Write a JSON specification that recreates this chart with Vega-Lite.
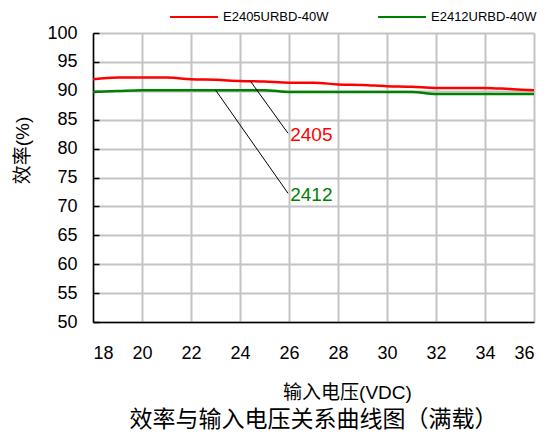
{
  "$schema": "https://vega.github.io/schema/vega-lite/v6.json",
  "autosize": {"type": "none"},
  "width": 441,
  "height": 289,
  "padding": {"left": 93, "top": 33, "right": 21, "bottom": 114},
  "background": "white",
  "config": {
    "font": "Liberation Sans, Noto Sans CJK SC",
    "view": {"stroke": null}
  },
  "title": {
    "text": "效率与输入电压关系曲线图（满载）",
    "orient": "bottom",
    "anchor": "middle",
    "frame": "group",
    "fontSize": 23,
    "fontWeight": "normal",
    "color": "black",
    "font": "Liberation Sans, Noto Sans CJK SC",
    "offset": 7
  },
  "datasets": {
    "curves": [
      {"v": 18, "eff": 92.0, "series": "E2405URBD-40W"},
      {"v": 19, "eff": 92.3, "series": "E2405URBD-40W"},
      {"v": 20, "eff": 92.3, "series": "E2405URBD-40W"},
      {"v": 21, "eff": 92.3, "series": "E2405URBD-40W"},
      {"v": 22, "eff": 92.0, "series": "E2405URBD-40W"},
      {"v": 23, "eff": 91.9, "series": "E2405URBD-40W"},
      {"v": 24, "eff": 91.7, "series": "E2405URBD-40W"},
      {"v": 25, "eff": 91.6, "series": "E2405URBD-40W"},
      {"v": 26, "eff": 91.4, "series": "E2405URBD-40W"},
      {"v": 27, "eff": 91.4, "series": "E2405URBD-40W"},
      {"v": 28, "eff": 91.1, "series": "E2405URBD-40W"},
      {"v": 29, "eff": 91.0, "series": "E2405URBD-40W"},
      {"v": 30, "eff": 90.8, "series": "E2405URBD-40W"},
      {"v": 31, "eff": 90.7, "series": "E2405URBD-40W"},
      {"v": 32, "eff": 90.5, "series": "E2405URBD-40W"},
      {"v": 33, "eff": 90.5, "series": "E2405URBD-40W"},
      {"v": 34, "eff": 90.5, "series": "E2405URBD-40W"},
      {"v": 35, "eff": 90.3, "series": "E2405URBD-40W"},
      {"v": 36, "eff": 90.1, "series": "E2405URBD-40W"},
      {"v": 18, "eff": 89.8, "series": "E2412URBD-40W"},
      {"v": 19, "eff": 89.95, "series": "E2412URBD-40W"},
      {"v": 20, "eff": 90.1, "series": "E2412URBD-40W"},
      {"v": 21, "eff": 90.1, "series": "E2412URBD-40W"},
      {"v": 22, "eff": 90.1, "series": "E2412URBD-40W"},
      {"v": 23, "eff": 90.1, "series": "E2412URBD-40W"},
      {"v": 24, "eff": 90.1, "series": "E2412URBD-40W"},
      {"v": 25, "eff": 90.1, "series": "E2412URBD-40W"},
      {"v": 26, "eff": 89.8, "series": "E2412URBD-40W"},
      {"v": 27, "eff": 89.8, "series": "E2412URBD-40W"},
      {"v": 28, "eff": 89.8, "series": "E2412URBD-40W"},
      {"v": 29, "eff": 89.8, "series": "E2412URBD-40W"},
      {"v": 30, "eff": 89.8, "series": "E2412URBD-40W"},
      {"v": 31, "eff": 89.8, "series": "E2412URBD-40W"},
      {"v": 32, "eff": 89.45, "series": "E2412URBD-40W"},
      {"v": 33, "eff": 89.45, "series": "E2412URBD-40W"},
      {"v": 34, "eff": 89.45, "series": "E2412URBD-40W"},
      {"v": 35, "eff": 89.45, "series": "E2412URBD-40W"},
      {"v": 36, "eff": 89.45, "series": "E2412URBD-40W"}
    ],
    "notes": [
      {"label": "2405", "x1": 24.42, "y1": 91.7, "x2": 25.96, "y2": 82.65, "tx": 26.05, "ty": 82.4},
      {"label": "2412", "x1": 23.0, "y1": 90.14, "x2": 25.96, "y2": 72.27, "tx": 26.05, "ty": 71.9}
    ]
  },
  "layer": [
    {
      "data": {"name": "curves"},
      "mark": {"type": "line", "interpolate": "monotone", "strokeWidth": 2.5},
      "encoding": {
        "x": {
          "field": "v", "type": "quantitative",
          "scale": {"domain": [18, 36], "nice": false, "zero": false},
          "axis": {
            "values": [18, 20, 22, 24, 26, 28, 30, 32, 34, 36],
            "tickCount": 30,
            "format": "d",
            "labelOverlap": false,
            "title": "输入电压(VDC)",
            "titleFontSize": 19, "titleFontWeight": "normal", "titleColor": "black",
            "titleX": 254, "titleY": 70, "titleAnchor": null, "titleAlign": "center", "titleBaseline": "middle",
            "labelFontSize": 18, "labelColor": "black", "labelPadding": 22,
            "ticks": false,
            "domainColor": "black", "domainWidth": 1.5,
            "grid": true, "gridColor": "#c4c4c4", "gridWidth": 2
          }
        },
        "y": {
          "field": "eff", "type": "quantitative",
          "scale": {"domain": [50, 100], "nice": false, "zero": false},
          "axis": {
            "values": [50, 55, 60, 65, 70, 75, 80, 85, 90, 95, 100],
            "tickCount": 30,
            "format": "d",
            "labelOverlap": false,
            "title": "效率(%)",
            "titleFontSize": 19, "titleFontWeight": "normal", "titleColor": "black",
            "titleX": -71, "titleY": 117, "titleAngle": -90, "titleAlign": "center", "titleBaseline": "middle",
            "labelFontSize": 18, "labelColor": "black", "labelPadding": 22,
            "ticks": true, "tickSize": -6, "tickColor": "black", "tickWidth": 1.5,
            "domainColor": "black", "domainWidth": 1.5,
            "grid": true, "gridColor": "#c4c4c4", "gridWidth": 2
          }
        },
        "color": {
          "field": "series", "type": "nominal",
          "scale": {"domain": ["E2405URBD-40W", "E2412URBD-40W"], "range": ["#ff0000", "#008000"]},
          "legend": {
            "title": null,
            "orient": "none",
            "direction": "horizontal",
            "legendX": 76,
            "legendY": -41,
            "symbolType": "stroke",
            "symbolSize": 2304,
            "symbolStrokeWidth": 2,
            "labelFontSize": 13,
            "labelColor": "black",
            "labelOffset": 4,
            "columnPadding": 45,
            "padding": 0
          }
        }
      }
    },
    {
      "data": {"name": "notes"},
      "mark": {"type": "rule", "color": "black", "strokeWidth": 1},
      "encoding": {
        "x": {"field": "x1", "type": "quantitative"},
        "y": {"field": "y1", "type": "quantitative"},
        "x2": {"field": "x2"},
        "y2": {"field": "y2"}
      }
    },
    {
      "data": {"name": "notes"},
      "transform": [{"filter": "datum.label == '2405'"}],
      "mark": {"type": "text", "align": "left", "baseline": "middle", "fontSize": 19, "color": "#ff0000", "font": "Liberation Sans"},
      "encoding": {
        "x": {"field": "tx", "type": "quantitative"},
        "y": {"field": "ty", "type": "quantitative"},
        "text": {"field": "label"}
      }
    },
    {
      "data": {"name": "notes"},
      "transform": [{"filter": "datum.label == '2412'"}],
      "mark": {"type": "text", "align": "left", "baseline": "middle", "fontSize": 19, "color": "#008000", "font": "Liberation Sans"},
      "encoding": {
        "x": {"field": "tx", "type": "quantitative"},
        "y": {"field": "ty", "type": "quantitative"},
        "text": {"field": "label"}
      }
    }
  ]
}
